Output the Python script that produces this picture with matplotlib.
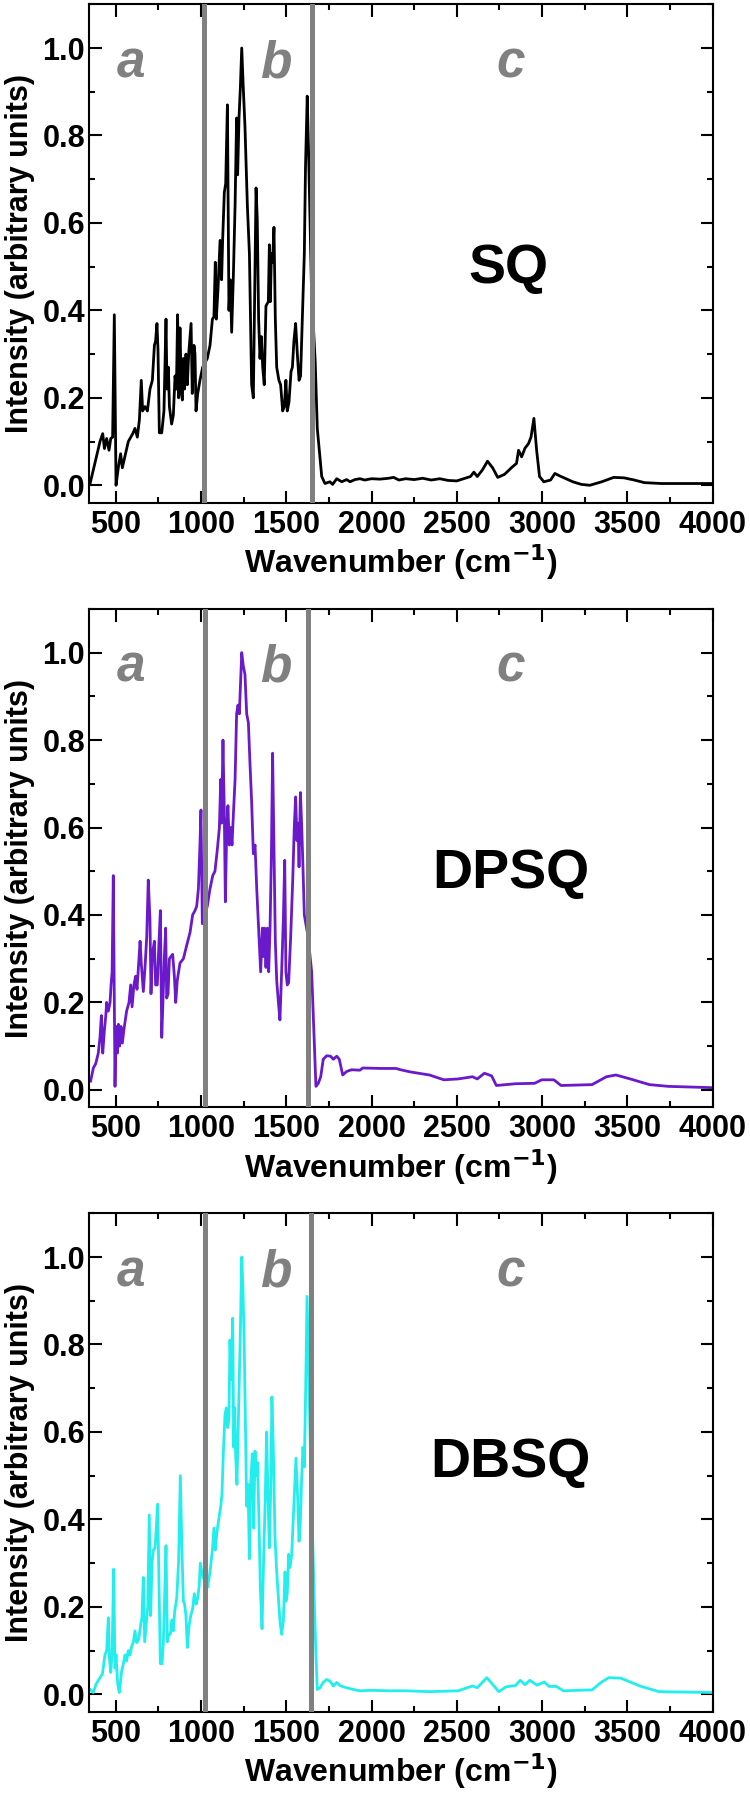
import matplotlib
matplotlib.use("Agg")
import matplotlib.pyplot as plt
from matplotlib.ticker import MultipleLocator

plt.rcParams['font.family'] = ['Liberation Sans', 'DejaVu Sans']
plt.rcParams['font.weight'] = 'bold'
plt.rcParams['mathtext.default'] = 'bf'

# spectra: (wavenumber, normalised intensity)
sq_pts = [(350, 0.004), (408, 0.10), (424, 0.118), (434, 0.084), (447, 0.107), (461, 0.08),
          (471, 0.107), (482, 0.11), (492, 0.39), (502, 0.0), (516, 0.042), (529, 0.072),
          (539, 0.04), (574, 0.10), (600, 0.118), (613, 0.13), (627, 0.11), (639, 0.15),
          (650, 0.24), (658, 0.17), (672, 0.18), (686, 0.17), (701, 0.22), (715, 0.24),
          (727, 0.32), (734, 0.33), (742, 0.37), (748, 0.31), (756, 0.12), (770, 0.12),
          (783, 0.17), (795, 0.38), (801, 0.22), (809, 0.27), (815, 0.18), (828, 0.14),
          (838, 0.16), (848, 0.25), (856, 0.22), (863, 0.39), (869, 0.20), (877, 0.36),
          (885, 0.21), (891, 0.195), (897, 0.29), (904, 0.22), (912, 0.30), (920, 0.23),
          (928, 0.30), (942, 0.37), (949, 0.21), (959, 0.32), (965, 0.30), (971, 0.17),
          (981, 0.21), (994, 0.24), (1010, 0.27), (1037, 0.29), (1053, 0.32), (1067, 0.38),
          (1076, 0.385), (1084, 0.51), (1090, 0.38), (1100, 0.45), (1112, 0.56), (1121, 0.47),
          (1127, 0.56), (1137, 0.67), (1145, 0.69), (1155, 0.87), (1164, 0.40), (1172, 0.47),
          (1180, 0.35), (1190, 0.48), (1200, 0.64), (1209, 0.84), (1215, 0.71), (1223, 0.84),
          (1231, 0.91), (1239, 1.0), (1248, 0.91), (1258, 0.82), (1272, 0.64), (1284, 0.53),
          (1297, 0.23), (1307, 0.20), (1315, 0.45), (1323, 0.68), (1330, 0.61), (1338, 0.38),
          (1346, 0.29), (1354, 0.34), (1362, 0.27), (1371, 0.23), (1381, 0.41), (1395, 0.42),
          (1401, 0.55), (1407, 0.42), (1413, 0.53), (1420, 0.51), (1428, 0.59), (1436, 0.38),
          (1444, 0.27), (1457, 0.24), (1467, 0.23), (1479, 0.17), (1489, 0.18), (1498, 0.24),
          (1506, 0.17), (1516, 0.19), (1528, 0.26), (1536, 0.27), (1545, 0.33), (1555, 0.37),
          (1565, 0.30), (1575, 0.24), (1584, 0.25), (1596, 0.40), (1606, 0.53), (1613, 0.73),
          (1623, 0.89), (1631, 0.76), (1648, 0.45), (1670, 0.28), (1682, 0.13), (1708, 0.02),
          (1727, 0.004), (1756, 0.008), (1772, 0.002), (1796, 0.015), (1825, 0.008),
          (1854, 0.013), (1874, 0.008), (1903, 0.013), (1932, 0.015), (1960, 0.012),
          (2000, 0.015), (2050, 0.014), (2100, 0.016), (2130, 0.018), (2160, 0.012),
          (2200, 0.015), (2250, 0.013), (2300, 0.016), (2350, 0.012), (2400, 0.015),
          (2450, 0.011), (2500, 0.01), (2540, 0.015), (2580, 0.02), (2600, 0.03), (2620, 0.02),
          (2650, 0.035), (2680, 0.055), (2710, 0.04), (2740, 0.018), (2780, 0.025),
          (2820, 0.04), (2850, 0.05), (2862, 0.08), (2880, 0.065), (2900, 0.085),
          (2920, 0.095), (2935, 0.11), (2952, 0.153), (2968, 0.08), (2985, 0.02),
          (3010, 0.008), (3050, 0.012), (3075, 0.027), (3100, 0.022), (3140, 0.015),
          (3180, 0.008), (3230, 0.002), (3280, 0.0), (3350, 0.008), (3420, 0.018),
          (3480, 0.017), (3540, 0.012), (3600, 0.006), (3700, 0.004), (3850, 0.004),
          (4000, 0.004)]

dpsq_pts = [(353, 0.02), (369, 0.05), (383, 0.06), (398, 0.084), (408, 0.12), (416, 0.17),
            (424, 0.084), (434, 0.137), (442, 0.17), (447, 0.20), (457, 0.18), (467, 0.20),
            (473, 0.24), (479, 0.27), (486, 0.49), (496, 0.008), (502, 0.145), (510, 0.084),
            (516, 0.15), (523, 0.10), (531, 0.145), (539, 0.107), (549, 0.14), (564, 0.18),
            (578, 0.20), (588, 0.24), (596, 0.19), (607, 0.24), (617, 0.26), (625, 0.23),
            (635, 0.29), (643, 0.34), (650, 0.29), (662, 0.225), (672, 0.28), (682, 0.35),
            (691, 0.48), (701, 0.39), (707, 0.22), (715, 0.31), (727, 0.34), (734, 0.24),
            (744, 0.24), (754, 0.34), (762, 0.41), (770, 0.12), (777, 0.20), (785, 0.30),
            (793, 0.37), (799, 0.21), (807, 0.22), (815, 0.30), (824, 0.305), (834, 0.31),
            (844, 0.26), (852, 0.20), (861, 0.25), (877, 0.29), (897, 0.30), (916, 0.33),
            (936, 0.36), (951, 0.40), (965, 0.41), (975, 0.42), (985, 0.46), (994, 0.56),
            (1000, 0.64), (1008, 0.38), (1037, 0.42), (1053, 0.46), (1069, 0.49), (1082, 0.50),
            (1096, 0.55), (1108, 0.60), (1116, 0.71), (1121, 0.61), (1129, 0.80), (1137, 0.63),
            (1143, 0.43), (1151, 0.60), (1158, 0.65), (1166, 0.56), (1174, 0.60), (1182, 0.56),
            (1190, 0.63), (1200, 0.71), (1209, 0.86), (1217, 0.88), (1225, 0.86), (1239, 1.0),
            (1248, 0.97), (1258, 0.95), (1268, 0.86), (1278, 0.84), (1287, 0.75), (1297, 0.66),
            (1307, 0.54), (1317, 0.56), (1327, 0.46), (1340, 0.35), (1350, 0.27), (1360, 0.37),
            (1366, 0.305), (1373, 0.37), (1381, 0.28), (1389, 0.37), (1397, 0.27), (1405, 0.37),
            (1413, 0.54), (1420, 0.77), (1428, 0.56), (1436, 0.34), (1444, 0.25), (1454, 0.20),
            (1463, 0.16), (1473, 0.27), (1483, 0.39), (1491, 0.525), (1498, 0.27), (1506, 0.24),
            (1514, 0.245), (1526, 0.35), (1538, 0.48), (1547, 0.60), (1555, 0.67), (1563, 0.57),
            (1569, 0.61), (1575, 0.51), (1583, 0.68), (1590, 0.61), (1598, 0.51), (1606, 0.40),
            (1628, 0.35), (1649, 0.27), (1663, 0.12), (1674, 0.008), (1688, 0.015), (1702, 0.03),
            (1717, 0.07), (1737, 0.078), (1760, 0.077), (1776, 0.07), (1796, 0.077), (1811, 0.07),
            (1831, 0.034), (1854, 0.042), (1883, 0.046), (1932, 0.045), (1948, 0.05),
            (2060, 0.049), (2144, 0.049), (2170, 0.046), (2228, 0.041), (2340, 0.034),
            (2424, 0.023), (2508, 0.025), (2592, 0.03), (2620, 0.025), (2662, 0.038),
            (2704, 0.032), (2732, 0.01), (2844, 0.014), (2956, 0.015), (2998, 0.023),
            (3069, 0.023), (3111, 0.01), (3293, 0.012), (3377, 0.03), (3433, 0.034),
            (3517, 0.025), (3629, 0.012), (3741, 0.008), (4000, 0.005)]

dbsq_pts = [(353, 0.01), (369, 0.004), (385, 0.023), (408, 0.038), (422, 0.046), (437, 0.09),
            (447, 0.10), (457, 0.175), (463, 0.084), (471, 0.05), (479, 0.09), (488, 0.286),
            (496, 0.06), (502, 0.09), (512, 0.023), (521, 0.004), (535, 0.053), (545, 0.07),
            (555, 0.09), (564, 0.076), (574, 0.10), (584, 0.09), (594, 0.11), (604, 0.12),
            (613, 0.145), (623, 0.118), (635, 0.125), (647, 0.16), (654, 0.175), (662, 0.267),
            (670, 0.12), (678, 0.156), (688, 0.20), (697, 0.41), (705, 0.18), (713, 0.30),
            (721, 0.33), (731, 0.335), (738, 0.38), (746, 0.435), (754, 0.25), (762, 0.07),
            (772, 0.07), (779, 0.115), (787, 0.22), (795, 0.34), (803, 0.12), (811, 0.137),
            (820, 0.137), (830, 0.17), (838, 0.145), (846, 0.19), (858, 0.22), (869, 0.305),
            (879, 0.50), (889, 0.32), (897, 0.213), (904, 0.206), (912, 0.18), (920, 0.107),
            (930, 0.156), (940, 0.18), (951, 0.195), (961, 0.23), (971, 0.206), (981, 0.22),
            (990, 0.25), (996, 0.30), (1010, 0.27), (1039, 0.245), (1053, 0.28), (1067, 0.33),
            (1076, 0.38), (1084, 0.33), (1092, 0.366), (1104, 0.40), (1116, 0.43), (1123, 0.457),
            (1131, 0.55), (1141, 0.64), (1149, 0.655), (1157, 0.61), (1164, 0.633), (1170, 0.81),
            (1178, 0.72), (1186, 0.86), (1192, 0.565), (1198, 0.655), (1203, 0.55), (1211, 0.48),
            (1221, 0.655), (1231, 0.83), (1239, 1.0), (1246, 0.93), (1254, 0.79), (1260, 0.64),
            (1268, 0.43), (1276, 0.48), (1284, 0.31), (1291, 0.48), (1301, 0.55), (1309, 0.38),
            (1317, 0.556), (1325, 0.50), (1332, 0.53), (1340, 0.40), (1348, 0.245), (1358, 0.15),
            (1368, 0.32), (1377, 0.45), (1385, 0.60), (1393, 0.45), (1401, 0.335), (1409, 0.47),
            (1416, 0.68), (1424, 0.565), (1434, 0.36), (1444, 0.28), (1454, 0.22), (1463, 0.168),
            (1473, 0.137), (1483, 0.168), (1493, 0.28), (1498, 0.213), (1506, 0.23), (1514, 0.32),
            (1522, 0.29), (1532, 0.32), (1541, 0.40), (1549, 0.47), (1557, 0.54), (1567, 0.45),
            (1575, 0.35), (1583, 0.40), (1590, 0.49), (1598, 0.565), (1606, 0.52), (1614, 0.70),
            (1622, 0.91), (1645, 0.50), (1665, 0.206), (1674, 0.09), (1682, 0.011), (1698, 0.015),
            (1717, 0.027), (1737, 0.034), (1756, 0.03), (1776, 0.019), (1796, 0.027), (1815, 0.02),
            (1835, 0.017), (1854, 0.015), (1883, 0.012), (1932, 0.008), (2004, 0.009),
            (2100, 0.008), (2200, 0.008), (2340, 0.006), (2508, 0.008), (2592, 0.019),
            (2620, 0.015), (2676, 0.038), (2718, 0.019), (2746, 0.006), (2788, 0.017),
            (2844, 0.02), (2872, 0.032), (2900, 0.022), (2928, 0.032), (2970, 0.021),
            (3013, 0.028), (3041, 0.018), (3083, 0.018), (3125, 0.008), (3293, 0.01),
            (3349, 0.028), (3391, 0.038), (3461, 0.037), (3573, 0.019), (3685, 0.006),
            (4000, 0.004)]

names = ["SQ", "DPSQ", "DBSQ"]
colors = ["black", "#6a1acb", "#22eeee"]
bars = [(1020, 1650), (1025, 1628), (1023, 1645)]
region_letters = ["a", "b", "c"]
letter_x = [0.0669, 0.2995, 0.6765]
name_pos = [(0.672, 0.441), (0.676, 0.440), (0.675, 0.472)]

spectra = [sq_pts, dpsq_pts, dbsq_pts]

fig = plt.figure(figsize=(7.5, 17.93), dpi=100)
bottoms = [0.7196, 0.3824, 0.0453]

for i in range(3):
    ax = fig.add_axes([0.119, bottoms[i], 0.8312, 0.278])
    x = [p[0] for p in spectra[i]]
    y = [p[1] for p in spectra[i]]
    ax.plot(x, y, color=colors[i], lw=2.0, zorder=2)
    for b in bars[i]:
        ax.axvline(b, color="#808080", lw=3.6, zorder=3)

    ax.set_xlim(345, 4000)
    ax.set_ylim(-0.04, 1.1)
    ax.xaxis.set_major_locator(MultipleLocator(500))
    ax.xaxis.set_minor_locator(MultipleLocator(250))
    ax.yaxis.set_major_locator(MultipleLocator(0.2))
    ax.yaxis.set_minor_locator(MultipleLocator(0.1))
    ax.yaxis.set_major_formatter(plt.FormatStrFormatter('%.1f'))
    ax.tick_params(which='both', direction='in', top=True, right=True, width=1.5)
    ax.tick_params(which='major', length=9, labelsize=22)
    ax.tick_params(which='minor', length=4.5)
    ax.tick_params(axis='x', pad=5)
    ax.tick_params(axis='y', pad=3)
    for sp in ax.spines.values():
        sp.set_linewidth(1.5)

    ax.set_xlabel("Wavenumber (cm$^{-1}$)", fontsize=23, fontweight='bold', labelpad=2)
    ax.set_ylabel("Intensity (arbitrary units)", fontsize=22, fontweight='bold', labelpad=5)

    for lt, fx in zip(region_letters, letter_x):
        ax.text(fx, 0.854, lt, transform=ax.transAxes, ha='center', va='baseline',
                fontsize=37, fontweight='bold', fontstyle='italic', color="#808080")
    ax.text(name_pos[i][0], name_pos[i][1], names[i], transform=ax.transAxes,
            ha='center', va='baseline', fontsize=40, fontweight='bold')

fig.savefig("out.png", dpi=100)
